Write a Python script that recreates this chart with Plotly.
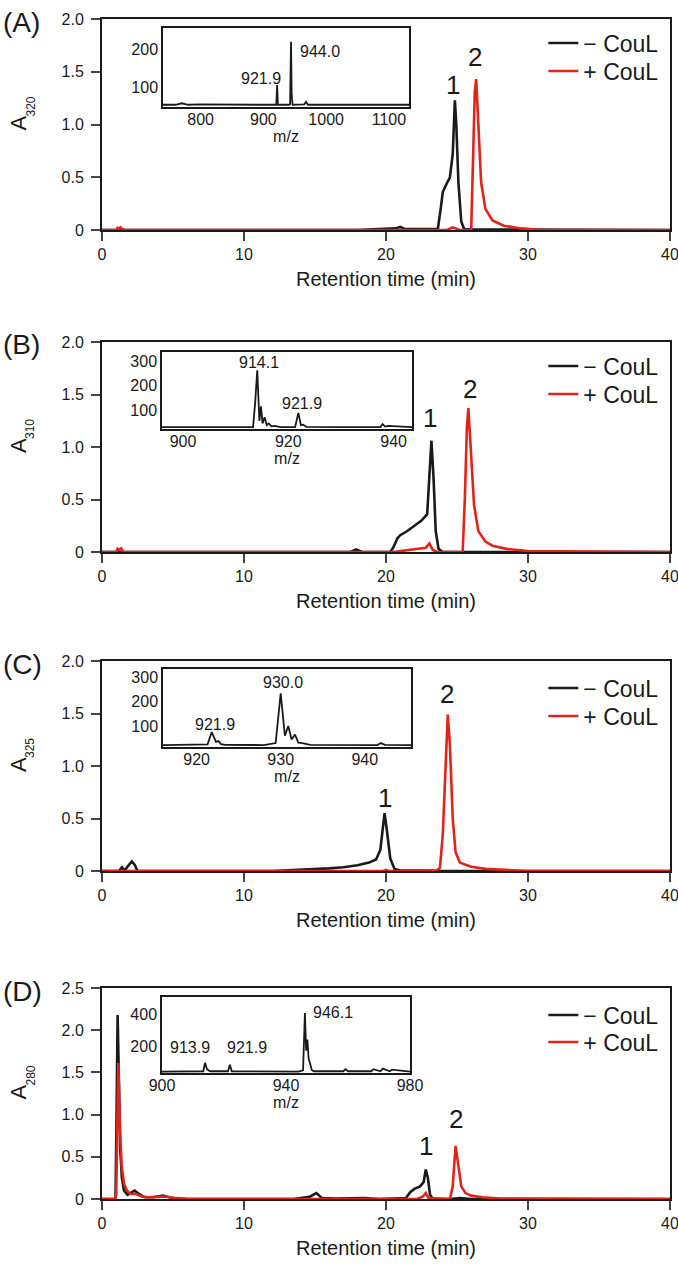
import plotly.graph_objects as go

# ---- chromatograms (retention time in min, absorbance) ----
# panel A, A320
a_t_minus = [0, 18.0, 19.5, 20.7, 21.0, 21.3, 23.0, 23.65, 23.85, 24.0, 24.2, 24.5, 24.7, 24.85, 24.95, 25.1, 25.3, 25.5, 26.0, 28.5, 30.0, 40]
a_y_minus = [0, 0, 0.01, 0.015, 0.03, 0.01, 0.01, 0.01, 0.2, 0.36, 0.42, 0.5, 0.72, 1.23, 1.0, 0.45, 0.08, 0.01, 0.005, 0.005, 0, 0]
a_t_plus = [0, 1.0, 1.1, 1.2, 1.3, 1.4, 1.6, 24.3, 24.7, 25.0, 25.2, 26.0, 26.1, 26.25, 26.35, 26.5, 26.7, 27.0, 27.5, 28.3, 29.5, 31.0, 40]
a_y_plus = [0, 0, 0.02, 0.01, 0.025, 0.01, 0, 0, 0.025, 0.01, 0, 0, 0.6, 1.3, 1.43, 1.0, 0.45, 0.2, 0.09, 0.04, 0.015, 0, 0]

# panel B, A310
b_t_minus = [0, 17.5, 17.9, 18.3, 20.3, 20.5, 20.8, 21.0, 21.5, 22.0, 22.5, 22.9, 23.05, 23.2, 23.35, 23.5, 23.7, 24.0, 40]
b_y_minus = [0, 0, 0.025, 0, 0, 0.04, 0.13, 0.16, 0.2, 0.25, 0.3, 0.36, 0.7, 1.06, 0.7, 0.2, 0.03, 0, 0]
b_t_plus = [0, 1.0, 1.1, 1.2, 1.35, 1.5, 20.5, 21.0, 22.0, 22.8, 23.05, 23.3, 23.6, 25.4, 25.55, 25.7, 25.8, 25.95, 26.2, 26.5, 27.0, 27.5, 28.5, 30.0, 40]
b_y_plus = [0, 0, 0.03, 0.02, 0.035, 0, 0, 0.01, 0.025, 0.04, 0.08, 0.02, 0, 0, 0.5, 1.2, 1.37, 1.0, 0.45, 0.2, 0.1, 0.06, 0.03, 0.01, 0]

# panel C, A325
c_t_minus = [0, 1.2, 1.4, 1.6, 1.9, 2.1, 2.3, 2.5, 12.0, 14.0, 16.0, 17.0, 18.0, 18.8, 19.3, 19.6, 19.8, 19.9, 20.05, 20.3, 20.6, 21.0, 23.0, 24.0, 40]
c_y_minus = [0, 0, 0.035, 0.005, 0.06, 0.09, 0.06, 0, 0, 0.01, 0.025, 0.035, 0.055, 0.08, 0.11, 0.2, 0.42, 0.55, 0.4, 0.12, 0.02, 0.005, 0.005, 0, 0]
c_t_plus = [0, 19.8, 20.0, 20.2, 23.5, 23.8, 24.0, 24.2, 24.35, 24.5, 24.7, 24.9, 25.2, 25.6, 26.0, 27.0, 28.5, 30.0, 40]
c_y_plus = [0, 0, 0.01, 0, 0, 0.03, 0.35, 1.1, 1.49, 1.2, 0.5, 0.18, 0.08, 0.06, 0.04, 0.02, 0.01, 0, 0]

# panel D, A280
d_t_minus = [0, 0.95, 1.02, 1.1, 1.18, 1.28, 1.4, 1.55, 1.8, 2.0, 2.3, 2.6, 3.0, 3.6, 4.3, 5.0, 6.0, 13.5, 14.6, 15.1, 15.5, 16.5, 17.5, 18.5, 19.5, 21.4, 21.7, 22.0, 22.4, 22.65, 22.8, 22.95, 23.1, 23.3, 24.5, 25.2, 26.0, 40]
d_y_minus = [0, 0, 0.9, 2.18, 1.5, 0.6, 0.25, 0.1, 0.05, 0.07, 0.1, 0.06, 0.02, 0.02, 0.04, 0.01, 0, 0, 0.025, 0.07, 0.01, 0.005, 0.01, 0.01, 0, 0.01, 0.08, 0.12, 0.15, 0.2, 0.35, 0.25, 0.05, 0, 0, 0.01, 0, 0]
d_t_plus = [0, 0.9, 1.0, 1.08, 1.15, 1.25, 1.38, 1.55, 1.75, 2.0, 2.4, 2.8, 3.3, 4.0, 4.5, 5.2, 6.0, 22.2, 22.6, 22.8, 23.0, 24.5, 24.7, 24.9, 25.1, 25.3, 25.6, 26.0, 26.8, 28.0, 40]
d_y_plus = [0, 0, 0.05, 1.0, 1.61, 0.9, 0.4, 0.18, 0.1, 0.06, 0.06, 0.03, 0.02, 0.025, 0.03, 0.01, 0, 0, 0.03, 0.07, 0.01, 0, 0.15, 0.63, 0.4, 0.15, 0.07, 0.04, 0.02, 0.005, 0]

# ---- mass spectra insets (m/z, intensity) ----
a_mz = [740, 760, 770, 780, 800, 830, 860, 890, 915, 920.5, 921.9, 923.0, 940, 942.5, 944.0, 945.0, 946.5, 950, 965, 968, 971, 1000, 1040, 1080, 1132]
a_int = [52, 52, 56, 52, 53, 52, 53, 52, 52, 52, 105, 52, 52, 53, 222, 80, 52, 52, 53, 60, 52, 52, 53, 52, 52]
b_mz = [896, 905, 913.3, 913.7, 914.1, 914.5, 914.8, 915.1, 915.5, 915.9, 916.3, 916.8, 917.4, 918.5, 921.3, 921.9, 922.4, 922.8, 923.4, 930, 937.5, 937.9, 938.4, 939, 943.5]
b_int = [30, 30, 30, 130, 262, 55, 115, 45, 70, 38, 45, 33, 35, 30, 30, 88, 38, 40, 31, 30, 30, 42, 32, 35, 30]
c_mz = [916, 920, 921.3, 921.8, 922.3, 922.6, 922.9, 923.4, 928, 929.4, 930.0, 930.5, 930.9, 931.3, 931.7, 932.1, 932.6, 933.5, 941.5, 941.9, 942.4, 945.5]
c_int = [22, 22, 25, 75, 35, 38, 26, 23, 22, 30, 233, 60, 100, 45, 65, 32, 30, 23, 22, 30, 23, 22]
d_mz = [900, 910, 913.3, 913.9, 914.5, 915.5, 921.3, 921.9, 922.5, 944, 945.5, 946.1, 946.5, 946.9, 947.3, 947.7, 948.3, 949, 958.5, 959.2, 960, 967.5, 968.2, 970.5, 971.2, 973.5, 974.2, 980]
d_int = [40, 40, 42, 95, 55, 42, 42, 82, 42, 40, 48, 406, 170, 240, 120, 95, 50, 42, 42, 55, 42, 42, 55, 42, 58, 42, 52, 40]

# ---- labels ----
panel_letters = ["(A)", "(B)", "(C)", "(D)"]
wavelengths = ["320", "310", "325", "280"]
y_ticks_main = [[0, 0.5, 1.0, 1.5, 2.0]] * 3 + [[0, 0.5, 1.0, 1.5, 2.0, 2.5]]
y_ticktext_main = [["0", "0.5", "1.0", "1.5", "2.0"]] * 3 + [["0", "0.5", "1.0", "1.5", "2.0", "2.5"]]
y_max_main = [2.0, 2.0, 2.0, 2.5]
x_ticks_main = [0, 10, 20, 30, 40]
series_names = ["\u2212 CouL", "+ CouL"]

inset_xrange = [[740, 1132], [896, 943.5], [916, 945.5], [900, 980]]
inset_yrange = [[46, 259], [22, 337], [14, 333], [31, 506]]
inset_xticks = [[800, 900, 1000, 1100], [900, 920, 940], [920, 930, 940], [900, 940, 980]]
inset_yticks = [[100, 200], [100, 200, 300], [100, 200, 300], [200, 400]]
# (text, m/z, intensity, anchor)
inset_labels = [
    [("921.9", 931, 124, "right"), ("944.0", 955, 195, "left")],
    [("914.1", 914.4, 296, "center"), ("921.9", 922.6, 125, "center")],
    [("930.0", 930.3, 276, "center"), ("921.9", 922.2, 108, "center")],
    [("946.1", 948.0, 412, "left"), ("913.9", 909, 190, "center"), ("921.9", 927.4, 190, "center")],
]
# peak numbers (text, time, absorbance)
peak_labels = [
    [("1", 24.7, 1.37), ("2", 26.3, 1.64)],
    [("1", 23.1, 1.28), ("2", 25.9, 1.55)],
    [("1", 19.9, 0.70), ("2", 24.3, 1.69)],
    [("1", 22.8, 0.63), ("2", 24.9, 0.95)],
]

chroms = [
    (a_t_minus, a_y_minus, a_t_plus, a_y_plus),
    (b_t_minus, b_y_minus, b_t_plus, b_y_plus),
    (c_t_minus, c_y_minus, c_t_plus, c_y_plus),
    (d_t_minus, d_y_minus, d_t_plus, d_y_plus),
]
spectra = [(a_mz, a_int), (b_mz, b_int), (c_mz, c_int), (d_mz, d_int)]

FONT = "Liberation Sans, Arial, Helvetica, sans-serif"
BLACK = "#1a1a1a"
RED = "#e2231a"

W, H = 678, 1267
ML, MR, MT, MB = 102, 8, 19, 68
PH = H - MT - MB
PW = W - ML - MR

# pixel boxes of each panel (top, bottom) and inset (left, right, top, bottom)
main_px = [(19, 230), (342, 552), (661, 871), (988, 1199)]
inset_px = [(163, 409, 28, 107), (162, 412, 352, 429), (163, 411, 669, 747), (162, 410, 997, 1073)]
legend_px = [(43, 71), (366, 394), (688, 716), (1015, 1042)]


def py(p):
    return (H - MB - p) / PH


def px(p):
    return (p - ML) / PW


fig = go.Figure()
layout = dict(
    width=W, height=H, autosize=False,
    margin=dict(l=ML, r=MR, t=MT, b=MB),
    paper_bgcolor="white", plot_bgcolor="white",
    font=dict(family=FONT, size=16, color=BLACK),
    annotations=[],
)

for i in range(4):
    n = i + 1
    sfx = "" if n == 1 else str(n)
    lg_minus = "legend" if n == 1 else "legend%d" % (2 * n - 1)
    lg_plus = "legend%d" % (2 * n)
    tm, ym, tp, yp = chroms[i]
    fig.add_trace(go.Scatter(x=tm, y=ym, mode="lines", name=series_names[0],
                             line=dict(color=BLACK, width=2.6),
                             xaxis="x" + sfx, yaxis="y" + sfx, legend=lg_minus))
    fig.add_trace(go.Scatter(x=tp, y=yp, mode="lines", name=series_names[1],
                             line=dict(color=RED, width=2.6),
                             xaxis="x" + sfx, yaxis="y" + sfx, legend=lg_plus))

    top, bot = main_px[i]
    layout["xaxis" + sfx] = dict(
        domain=[0, 1], anchor="y" + sfx, range=[0, 40], automargin=False,
        tickvals=x_ticks_main, ticks="outside", ticklen=9, tickwidth=2,
        showline=True, linewidth=2, linecolor=BLACK, mirror=True,
        showgrid=False, zeroline=False, ticklabelstandoff=0,
        ticklabeloverflow="allow",
        tickfont=dict(size=16),
        title=dict(text="Retention time (min)", font=dict(size=20), standoff=10),
    )
    layout["yaxis" + sfx] = dict(
        domain=[py(bot), py(top)], anchor="x" + sfx, range=[0, y_max_main[i]],
        automargin=False,
        tickvals=y_ticks_main[i], ticktext=y_ticktext_main[i],
        ticks="outside", ticklen=9, tickwidth=2,
        showline=True, linewidth=2, linecolor=BLACK, mirror=True,
        showgrid=False, zeroline=False, ticklabelstandoff=4,
        tickfont=dict(size=16),
    )
    for lg, ypix in zip((lg_minus, lg_plus), legend_px[i]):
        layout[lg] = dict(
            x=0.99, xanchor="right", y=py(ypix), yanchor="middle",
            bgcolor="rgba(0,0,0,0)", font=dict(size=23, color=BLACK),
            itemwidth=30,
        )

    # inset axes
    k = i + 5
    l, r, it, ib = inset_px[i]
    mz, inten = spectra[i]
    fig.add_trace(go.Scatter(x=mz, y=inten, mode="lines", showlegend=False,
                             line=dict(color=BLACK, width=1.8),
                             xaxis="x%d" % k, yaxis="y%d" % k))
    layout["xaxis%d" % k] = dict(
        domain=[px(l), px(r)], anchor="y%d" % k, range=inset_xrange[i],
        automargin=False,
        tickvals=inset_xticks[i], ticks="", showline=True, linewidth=1.5,
        linecolor=BLACK, mirror=True, showgrid=False, zeroline=False,
        tickfont=dict(size=16), ticklabelstandoff=-3,
        title=dict(text="m/z", font=dict(size=16), standoff=0),
    )
    layout["yaxis%d" % k] = dict(
        domain=[py(ib), py(it)], anchor="x%d" % k, range=inset_yrange[i],
        automargin=False,
        tickvals=inset_yticks[i], ticks="", showline=True, linewidth=1.5,
        linecolor=BLACK, mirror=True, showgrid=False, zeroline=False,
        tickfont=dict(size=16), ticklabelstandoff=0,
    )
    for txt, xv, yv, anc in inset_labels[i]:
        layout["annotations"].append(dict(
            text=txt, x=xv, y=yv, xref="x%d" % k, yref="y%d" % k,
            xanchor=anc, yanchor="middle", showarrow=False,
            font=dict(size=16, color=BLACK)))
    for txt, xv, yv in peak_labels[i]:
        layout["annotations"].append(dict(
            text=txt, x=xv, y=yv, xref="x" + sfx, yref="y" + sfx,
            xanchor="center", yanchor="middle", showarrow=False,
            font=dict(size=26, color=BLACK)))

    # panel letter and y title (A with wavelength subscript)
    layout["annotations"].append(dict(
        text=panel_letters[i], x=px(1), y=py(top + 3), xref="paper", yref="paper",
        xanchor="left", yanchor="middle", showarrow=False,
        font=dict(size=28, color=BLACK)))
    mid = (top + bot) / 2
    layout["annotations"].append(dict(
        text="A", x=px(18), y=py(mid - 1), xref="paper", yref="paper",
        xanchor="center", yanchor="middle", textangle=-90, showarrow=False,
        font=dict(size=22, color=BLACK)))
    layout["annotations"].append(dict(
        text=wavelengths[i], x=px(30), y=py(mid - 18), xref="paper", yref="paper",
        xanchor="center", yanchor="middle", textangle=-90, showarrow=False,
        font=dict(size=12, color=BLACK)))

fig.update_layout(**layout)
fig.write_html(
    "out.html",
    config={"displayModeBar": False, "responsive": False},
    post_script="document.body.style.margin='0';document.body.style.overflow='hidden';",
)
